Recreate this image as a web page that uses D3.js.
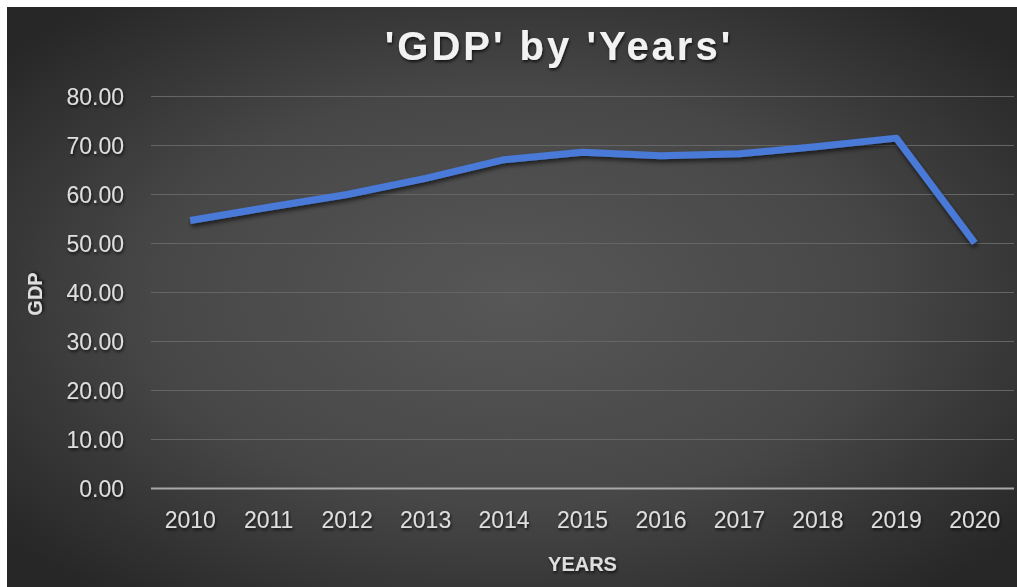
<!DOCTYPE html>
<html>
<head>
<meta charset="utf-8">
<script src="https://cdn.jsdelivr.net/npm/d3@7"></script>
<style>
  html, body { margin: 0; padding: 0; background: #ffffff; }
  svg { display: block; }
</style>
</head>
<body>
<svg id="chart" width="1017" height="587"></svg>
<script>
const years = ["2010","2011","2012","2013","2014","2015","2016","2017","2018","2019","2020"];
const gdp = [54.6, 57.3, 59.9, 63.2, 67.0, 68.5, 67.8, 68.2, 69.7, 71.4, 50.0];
const yTicks = [0, 10, 20, 30, 40, 50, 60, 70, 80];
const chartTitle = "'GDP' by 'Years'";
const xTitle = "YEARS";
const yTitle = "GDP";

const svg = d3.select("#chart");
const defs = svg.append("defs");

const rg = defs.append("radialGradient").attr("id", "bg")
  .attr("cx", "50%").attr("cy", "50%").attr("r", "65%");
rg.append("stop").attr("offset", "0%").attr("stop-color", "#575757");
rg.append("stop").attr("offset", "55%").attr("stop-color", "#474747");
rg.append("stop").attr("offset", "100%").attr("stop-color", "#272727");

const sh = defs.append("filter").attr("id", "lineShadow")
  .attr("x", "-10%").attr("y", "-20%").attr("width", "120%").attr("height", "140%");
sh.append("feDropShadow").attr("dx", 1).attr("dy", 3).attr("stdDeviation", 2)
  .attr("flood-color", "#000").attr("flood-opacity", 0.6);

const tsh = defs.append("filter").attr("id", "textShadow")
  .attr("x", "-10%").attr("y", "-30%").attr("width", "120%").attr("height", "160%");
tsh.append("feDropShadow").attr("dx", 1).attr("dy", 2).attr("stdDeviation", 1.5)
  .attr("flood-color", "#000").attr("flood-opacity", 0.7);

svg.append("rect").attr("x", 7).attr("y", 7).attr("width", 1010).attr("height", 580)
  .attr("fill", "url(#bg)");

const plot = { left: 151, right: 1014, top: 96, bottom: 488 };

const x = d3.scaleBand().domain(years).range([plot.left, plot.right]).padding(0);
const y = d3.scaleLinear().domain([0, 80]).range([plot.bottom, plot.top]);

// gridlines
const yAxis = d3.axisLeft(y).tickValues(yTicks)
  .tickSize(-(plot.right - plot.left)).tickPadding(27)
  .tickFormat(d3.format(".2f"));
const gy = svg.append("g").attr("transform", `translate(${plot.left},0)`).call(yAxis);
gy.select(".domain").remove();
gy.selectAll(".tick line")
  .attr("stroke", d => d === 0 ? "#a8a8a8" : "#656565")
  .attr("stroke-width", d => d === 0 ? 2 : 1.2);
gy.selectAll(".tick text")
  .attr("fill", "#dedede")
  .attr("font-family", "'Liberation Sans', Arial, sans-serif")
  .attr("font-size", 23)
  .attr("dy", "0.35em")
  .attr("filter", "url(#textShadow)");

// x axis labels
const xAxis = d3.axisBottom(x).tickSize(0).tickPadding(24);
const gx = svg.append("g").attr("transform", `translate(0,${plot.bottom})`).call(xAxis);
gx.select(".domain").remove();
gx.selectAll(".tick text")
  .attr("fill", "#dedede")
  .attr("font-family", "'Liberation Sans', Arial, sans-serif")
  .attr("font-size", 23)
  .attr("filter", "url(#textShadow)");

// line
const line = d3.line()
  .x((d, i) => x(years[i]) + x.bandwidth() / 2)
  .y(d => y(d))
  .curve(d3.curveLinear);

svg.append("path")
  .datum(gdp)
  .attr("d", line)
  .attr("fill", "none")
  .attr("stroke", "#4a7ad8")
  .attr("stroke-width", 7)
  .attr("stroke-linejoin", "round")
  .attr("filter", "url(#lineShadow)");

// title
svg.append("text")
  .attr("x", 559).attr("y", 60)
  .attr("text-anchor", "middle")
  .attr("fill", "#f2f2f2")
  .attr("font-family", "'Liberation Sans', Arial, sans-serif")
  .attr("font-weight", "bold")
  .attr("font-size", 40)
  .attr("letter-spacing", 3)
  .attr("filter", "url(#textShadow)")
  .text(chartTitle);

// axis titles
svg.append("text")
  .attr("x", (plot.left + plot.right) / 2).attr("y", 571)
  .attr("text-anchor", "middle")
  .attr("fill", "#dedede")
  .attr("font-family", "'Liberation Sans', Arial, sans-serif")
  .attr("font-weight", "bold")
  .attr("font-size", 20)
  .attr("filter", "url(#textShadow)")
  .text(xTitle);

svg.append("text")
  .attr("transform", "translate(42,294) rotate(-90)")
  .attr("text-anchor", "middle")
  .attr("fill", "#dedede")
  .attr("font-family", "'Liberation Sans', Arial, sans-serif")
  .attr("font-weight", "bold")
  .attr("font-size", 20)
  .attr("filter", "url(#textShadow)")
  .text(yTitle);
</script>
</body>
</html>
